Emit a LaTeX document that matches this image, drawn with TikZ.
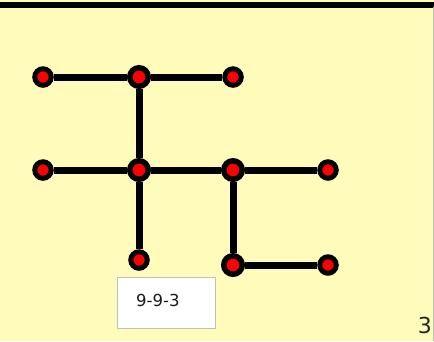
\documentclass[tikz,border=0pt]{standalone}
\usepackage{fontspec}
\setmainfont{DejaVu Sans}
\definecolor{bg}{RGB}{255,252,187}
\definecolor{boxgray}{RGB}{190,190,190}
\begin{document}
\begin{tikzpicture}[x=1pt,y=-1pt,
  leaf/.style={circle,draw=black,fill=red,line width=5pt,minimum size=16.5pt,inner sep=0pt},
  hub/.style={circle,draw=black,fill=red,line width=5.5pt,minimum size=18.5pt,inner sep=0pt},
  edge/.style={line width=7pt,black},
  lab/.style={draw=boxgray,line width=1.2pt,fill=white,minimum width=98pt,minimum height=51pt,inner sep=0pt}]
\useasboundingbox (0,0) rectangle (434,341);
\fill[bg] (0,0) rectangle (434,341);
\fill[black] (0,1.5) rectangle (434,7.5);
\draw[boxgray,line width=1pt] (433.5,7) -- (433.5,341);
% nodes
\node[leaf] (a1) at (43,77) {};
\node[hub]  (a2) at (139,77) {};
\node[leaf] (a3) at (233,77) {};
\node[leaf] (b1) at (43,170) {};
\node[hub]  (b2) at (139,170) {};
\node[hub]  (b3) at (233,170) {};
\node[leaf] (b4) at (328,170) {};
\node[leaf] (c1) at (139,260) {};
\node[hub]  (c2) at (233,265) {};
\node[leaf] (c3) at (328,265) {};
% edges
\draw[edge] (a1) -- (a2);
\draw[edge] (a2) -- (a3);
\draw[edge] (a2) -- (b2);
\draw[edge] (b1) -- (b2);
\draw[edge] (b2) -- (b3);
\draw[edge] (b3) -- (b4);
\draw[edge] (b2) -- (c1);
\draw[edge] (b3) -- (c2);
\draw[edge] (c2) -- (c3);
% label
\node[lab] (box) at (166.5,303) {};
\node[anchor=west,font=\fontsize{16.5}{16.5}\selectfont,text=black!90,inner sep=0pt] (txt) at (136,300) {9-9-3};
\node[anchor=east,font=\fontsize{22}{22}\selectfont,text=black!85,inner sep=0pt] (pg) at (432,325) {3};
\end{tikzpicture}
\end{document}
